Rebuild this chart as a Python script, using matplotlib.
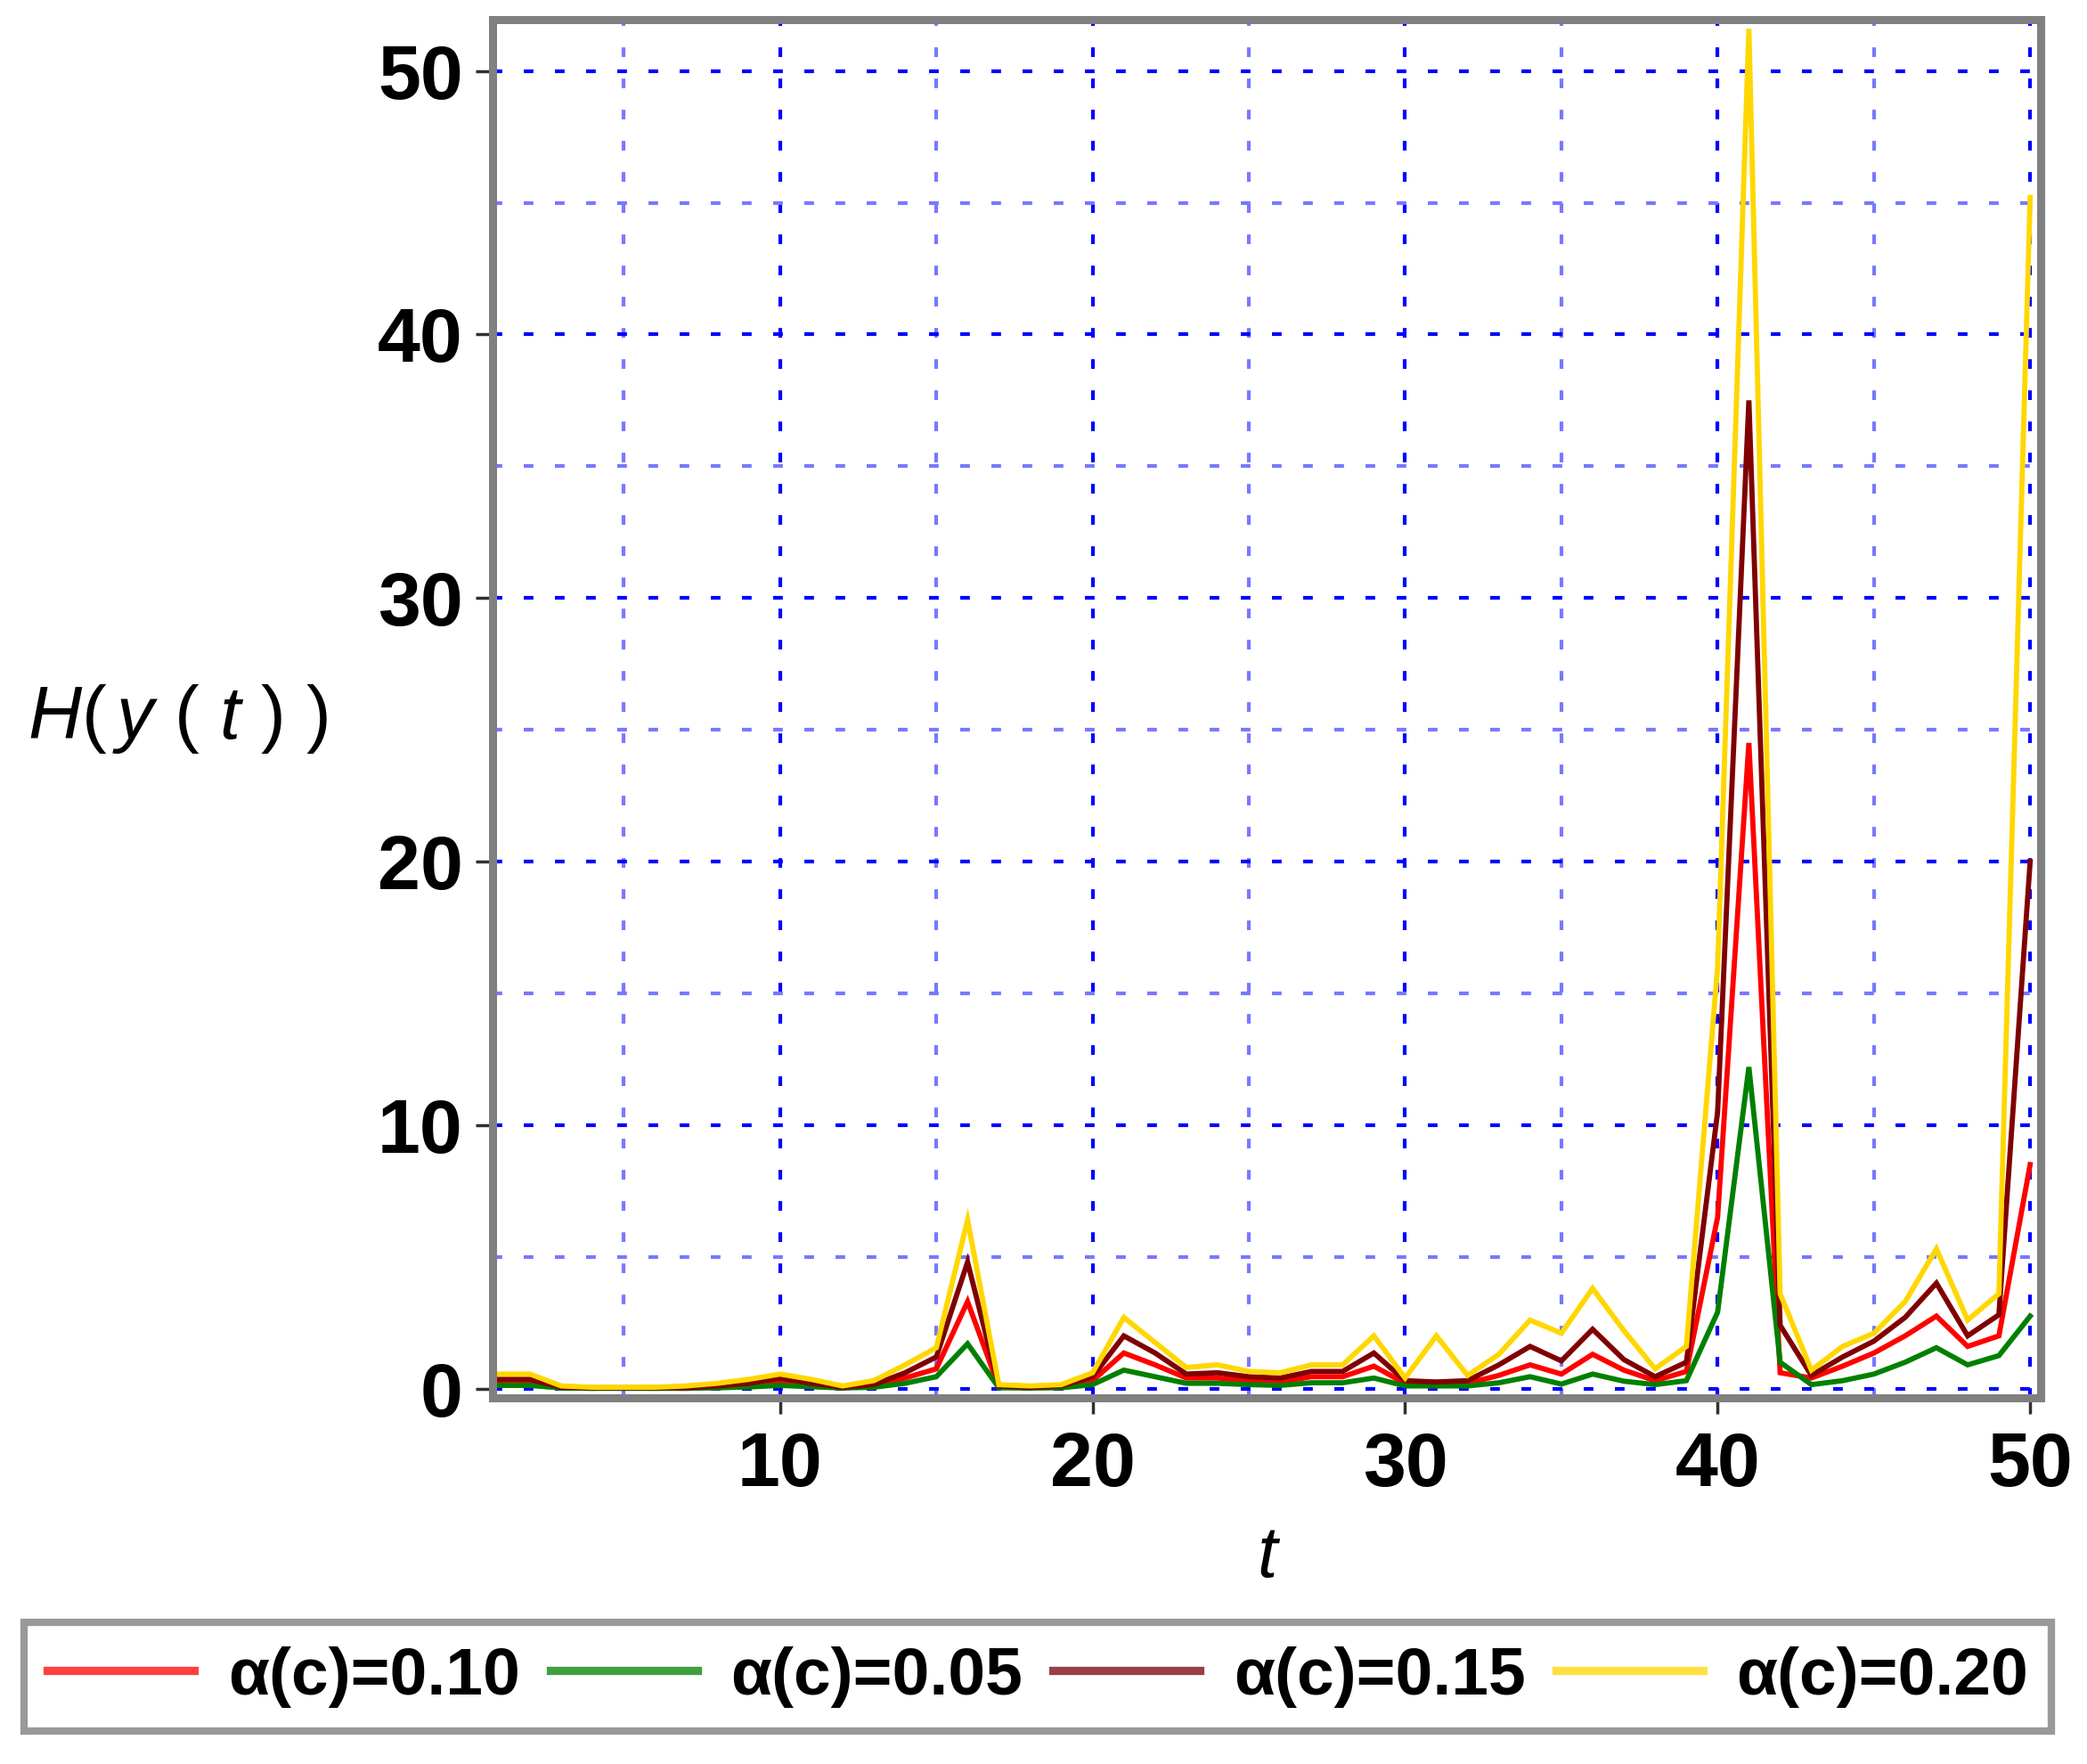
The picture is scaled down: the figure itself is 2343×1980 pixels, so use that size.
import matplotlib
matplotlib.use("Agg")
import matplotlib.pyplot as plt
import numpy as np
from matplotlib.lines import Line2D

plt.rcParams["font.family"] = ["Liberation Sans", "DejaVu Sans"]
plt.rcParams["mathtext.fontset"] = "custom"
plt.rcParams["mathtext.rm"] = "Liberation Sans:weight=normal"
plt.rcParams["mathtext.it"] = "Liberation Sans:italic:weight=normal"

# ---- data ----------------------------------------------------------------
t = np.arange(1, 51)

h_010 = [0.25, 0.25, 0.03, 0.02, 0.02, 0.02, 0.02, 0.07, 0.12, 0.25,
         0.15, 0.03, 0.10, 0.40, 0.75, 3.30, 0.07, 0.04, 0.07, 0.30,
         1.35, 0.90, 0.40, 0.40, 0.30, 0.25, 0.45, 0.45, 0.85, 0.20,
         0.20, 0.20, 0.50, 0.90, 0.55, 1.30, 0.70, 0.30, 0.65, 6.50,
         24.5, 0.60, 0.40, 0.85, 1.35, 2.00, 2.75, 1.60, 2.00, 8.50]

h_005 = [0.12, 0.12, 0.02, 0.01, 0.01, 0.01, 0.01, 0.03, 0.06, 0.12,
         0.07, 0.02, 0.05, 0.20, 0.45, 1.70, 0.03, 0.02, 0.03, 0.15,
         0.70, 0.45, 0.20, 0.20, 0.15, 0.12, 0.22, 0.22, 0.40, 0.10,
         0.10, 0.10, 0.22, 0.45, 0.17, 0.55, 0.28, 0.15, 0.30, 2.90,
         12.2, 1.00, 0.15, 0.30, 0.55, 1.00, 1.55, 0.90, 1.25, 2.75]

h_015 = [0.35, 0.35, 0.05, 0.03, 0.03, 0.03, 0.03, 0.10, 0.20, 0.40,
         0.20, 0.05, 0.15, 0.60, 1.20, 4.80, 0.10, 0.05, 0.10, 0.45,
         2.00, 1.35, 0.55, 0.60, 0.45, 0.40, 0.65, 0.65, 1.35, 0.30,
         0.25, 0.30, 0.90, 1.60, 1.05, 2.25, 1.10, 0.45, 1.00, 10.5,
         37.5, 2.40, 0.50, 1.20, 1.80, 2.70, 4.00, 2.00, 2.80, 20.0]

h_020 = [0.55, 0.55, 0.10, 0.05, 0.05, 0.05, 0.10, 0.20, 0.35, 0.55,
         0.35, 0.10, 0.30, 0.90, 1.55, 6.40, 0.15, 0.10, 0.15, 0.60,
         2.70, 1.75, 0.80, 0.90, 0.65, 0.60, 0.90, 0.90, 2.00, 0.40,
         2.00, 0.50, 1.30, 2.60, 2.10, 3.80, 2.20, 0.75, 1.60, 16.0,
         51.6, 3.60, 0.70, 1.60, 2.10, 3.30, 5.30, 2.60, 3.60, 45.2]

labels = ["α(c)=0.10", "α(c)=0.05", "α(c)=0.15", "α(c)=0.20"]
series = [h_010, h_005, h_015, h_020]
colors = ["#FF0000", "#008000", "#800000", "#FFD700"]
legend_colors = ["#FF4040", "#40A040", "#9A4048", "#FFE040"]

# ---- figure ---------------------------------------------------------------
fig = plt.figure(figsize=(23.43, 19.80), dpi=100)
ax = fig.add_axes([0.236, 0.2076, 0.742, 0.7813])

for ys, c in zip(series, colors):
    ax.plot(t, ys, color=c, lw=4.2, solid_joinstyle="miter")

ax.set_xlim(0.8, 50.35)
ax.set_ylim(-0.35, 51.95)

ax.set_xticks([10, 20, 30, 40, 50])
ax.set_xticks(np.arange(5, 51, 10), minor=True)
ax.set_yticks([0, 10, 20, 30, 40, 50])
ax.set_yticks(np.arange(5, 51, 10), minor=True)

# square blue dots, ~35 px period
dots = (0, (2.6, 5.8))
ax.grid(True, which="major", color="#0000FF", lw=3.0, linestyle=dots)
ax.grid(True, which="minor", color="#7878FF", lw=3.0, linestyle=dots)
ax.set_axisbelow(True)

for sp in ax.spines.values():
    sp.set_color("#808080")
    sp.set_linewidth(6.5)

ax.tick_params(which="minor", length=0)
ax.tick_params(axis="x", which="major", direction="out", length=13, width=2.5,
               color="#303030", pad=14, labelsize=62)
ax.tick_params(axis="y", which="major", direction="out", length=14, width=2.5,
               color="#303030", pad=10, labelsize=62)
for lbl in ax.get_xticklabels() + ax.get_yticklabels():
    lbl.set_fontweight("bold")

ax.set_xlabel("t", fontsize=58, fontstyle="italic", va="center")
ax.xaxis.set_label_coords(0.5, -0.1164)
ax.set_ylabel(r"$H(\,y\,\,(\,\,t\,\,)\,\,)$", fontsize=60, rotation=0,
              va="center", ha="center")
ax.yaxis.set_label_coords(-0.203, 0.4926)

handles = [Line2D([], [], color=c, lw=6.7) for c in legend_colors]
leg = fig.legend(handles, labels, loc="lower left", ncol=4, mode="expand",
                 bbox_to_anchor=(0.0115, 0.0187, 0.9715, 0.062),
                 borderaxespad=0, fancybox=False, handlelength=2.2,
                 handletextpad=0.5, borderpad=0.35,
                 prop={"size": 54, "weight": "bold"})
leg.get_frame().set_edgecolor("#808080")
leg.get_frame().set_linewidth(6)

fig.savefig("out.png", dpi=100)
